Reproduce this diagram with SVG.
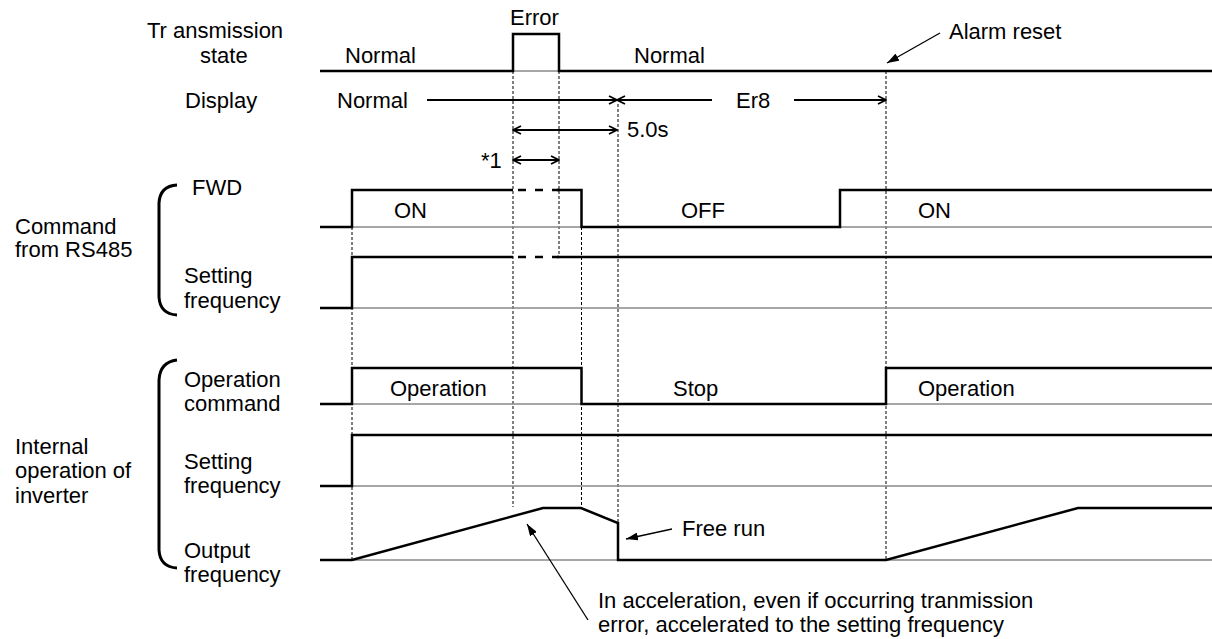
<svg xmlns="http://www.w3.org/2000/svg" width="1212" height="639" viewBox="0 0 1212 639">
<style>
text{font-family:"Liberation Sans",Arial,Helvetica,sans-serif;font-size:22px;fill:#000}
.sig{fill:none;stroke:#000;stroke-width:2.5;stroke-linejoin:miter}
.base{fill:none;stroke:#888;stroke-width:1.6}
.dsh{fill:none;stroke:#000;stroke-width:1;stroke-dasharray:3 2}
.gap{fill:none;stroke:#000;stroke-width:2.5;stroke-dasharray:8 9}
.brk{fill:none;stroke:#000;stroke-width:3}
.dim{fill:none;stroke:#000;stroke-width:1.8}
.thin{fill:none;stroke:#000;stroke-width:1.3}
</style>
<defs>
<marker id="open" viewBox="0 0 10 10" refX="9" refY="5" markerWidth="10" markerHeight="10" markerUnits="userSpaceOnUse" orient="auto-start-reverse">
<path d="M1,1 L9,5 L1,9" fill="none" stroke="#000" stroke-width="1.8"/>
</marker>
<marker id="fill" viewBox="0 0 12 8" refX="12" refY="4" markerWidth="12" markerHeight="8" markerUnits="userSpaceOnUse" orient="auto">
<path d="M0,0 L12,4 L0,8 z" fill="#000"/>
</marker>
</defs>

<g id="guides">
<line class="dsh" x1="352" y1="227" x2="352" y2="560"/>
<line class="dsh" x1="513" y1="71" x2="513" y2="507"/>
<line class="dsh" x1="559" y1="71" x2="559" y2="257"/>
<line class="dsh" x1="581.5" y1="227" x2="581.5" y2="508"/>
<line class="dsh" x1="618" y1="104" x2="618" y2="523"/>
<line class="dsh" x1="886" y1="71" x2="886" y2="560"/>
</g>

<g id="labels-left">
<text x="147" y="38">Tr ansmission</text>
<text x="200" y="63">state</text>
<text x="185" y="108">Display</text>
<text x="15" y="234">Command</text>
<text x="15" y="257">from RS485</text>
<text x="192" y="195">FWD</text>
<text x="184" y="283">Setting</text>
<text x="184" y="308">frequency</text>
<text x="15" y="454">Internal</text>
<text x="15" y="478">operation of</text>
<text x="15" y="503">inverter</text>
<text x="184" y="387">Operation</text>
<text x="184" y="411">command</text>
<text x="184" y="469">Setting</text>
<text x="184" y="493">frequency</text>
<text x="184" y="558">Output</text>
<text x="184" y="582">frequency</text>
<path class="brk" d="M177,185 Q160,186 159,203 L159,297 Q160,314 177,315"/>
<path class="brk" d="M177,360 Q160,362 159,380 L159,550 Q160,567 177,568"/>
</g>

<g id="transmission">
<line class="base" x1="513" y1="71" x2="559" y2="71"/>
<path class="sig" d="M320,71 H513 V34 H559 V71 H1212"/>
<text x="510" y="25">Error</text>
<text x="345" y="63">Normal</text>
<text x="634" y="63">Normal</text>
<text x="949" y="39">Alarm reset</text>
</g>

<g id="display">
<text x="337" y="108">Normal</text>
<text x="736" y="108">Er8</text>
<text x="627" y="137">5.0s</text>
<text x="481" y="168">*1</text>
</g>

<g id="fwd">
<line class="base" x1="320" y1="227" x2="1212" y2="227"/>
<path class="sig" d="M320,227 H352 V190 H513"/>
<line class="gap" x1="518" y1="190" x2="559" y2="190"/>
<path class="sig" d="M557,190 H581.5 V227 H840 V190 H1212"/>
<text x="394" y="218">ON</text>
<text x="681" y="218">OFF</text>
<text x="918" y="218">ON</text>
</g>

<g id="cmd-setting-frequency">
<line class="base" x1="320" y1="308" x2="1212" y2="308"/>
<path class="sig" d="M320,308 H352 V257 H513"/>
<line class="gap" x1="518" y1="257" x2="559" y2="257"/>
<path class="sig" d="M557,257 H1212"/>
</g>

<g id="operation-command">
<line class="base" x1="320" y1="404" x2="1212" y2="404"/>
<path class="sig" d="M320,404 H352 V368 H581.5 V404 H886 V368 H1212"/>
<text x="390" y="396">Operation</text>
<text x="673" y="396">Stop</text>
<text x="918" y="396">Operation</text>
</g>

<g id="internal-setting-frequency">
<line class="base" x1="320" y1="486" x2="1212" y2="486"/>
<path class="sig" d="M320,486 H352 V435 H1212"/>
</g>

<g id="output-frequency">
<line class="base" x1="320" y1="560" x2="1212" y2="560"/>
<path class="sig" d="M320,560 H352 L543,508 H581 L618,523 V560 H886 L1078,508 H1212"/>
<text x="682" y="536">Free run</text>
<text x="598" y="608">In acceleration, even if occurring tranmission</text>
<text x="598" y="632">error, accelerated to the setting frequency</text>
</g>

<g id="connectors">
<line class="dim" x1="427" y1="100" x2="617" y2="100" marker-end="url(#open)"/>
<line class="dim" x1="712" y1="100" x2="617" y2="100" marker-end="url(#open)"/>
<line class="dim" x1="794" y1="100" x2="886" y2="100" marker-end="url(#open)"/>
<line class="dim" x1="513" y1="130" x2="617" y2="130" marker-start="url(#open)" marker-end="url(#open)"/>
<line class="dim" x1="513" y1="160" x2="559" y2="160" marker-start="url(#open)" marker-end="url(#open)"/>
<line class="thin" x1="940" y1="33" x2="887" y2="63" marker-end="url(#fill)"/>
<line class="thin" x1="672" y1="529" x2="626" y2="539" marker-end="url(#fill)"/>
<line class="thin" x1="588" y1="620" x2="527" y2="524" marker-end="url(#fill)"/>
</g>
</svg>
